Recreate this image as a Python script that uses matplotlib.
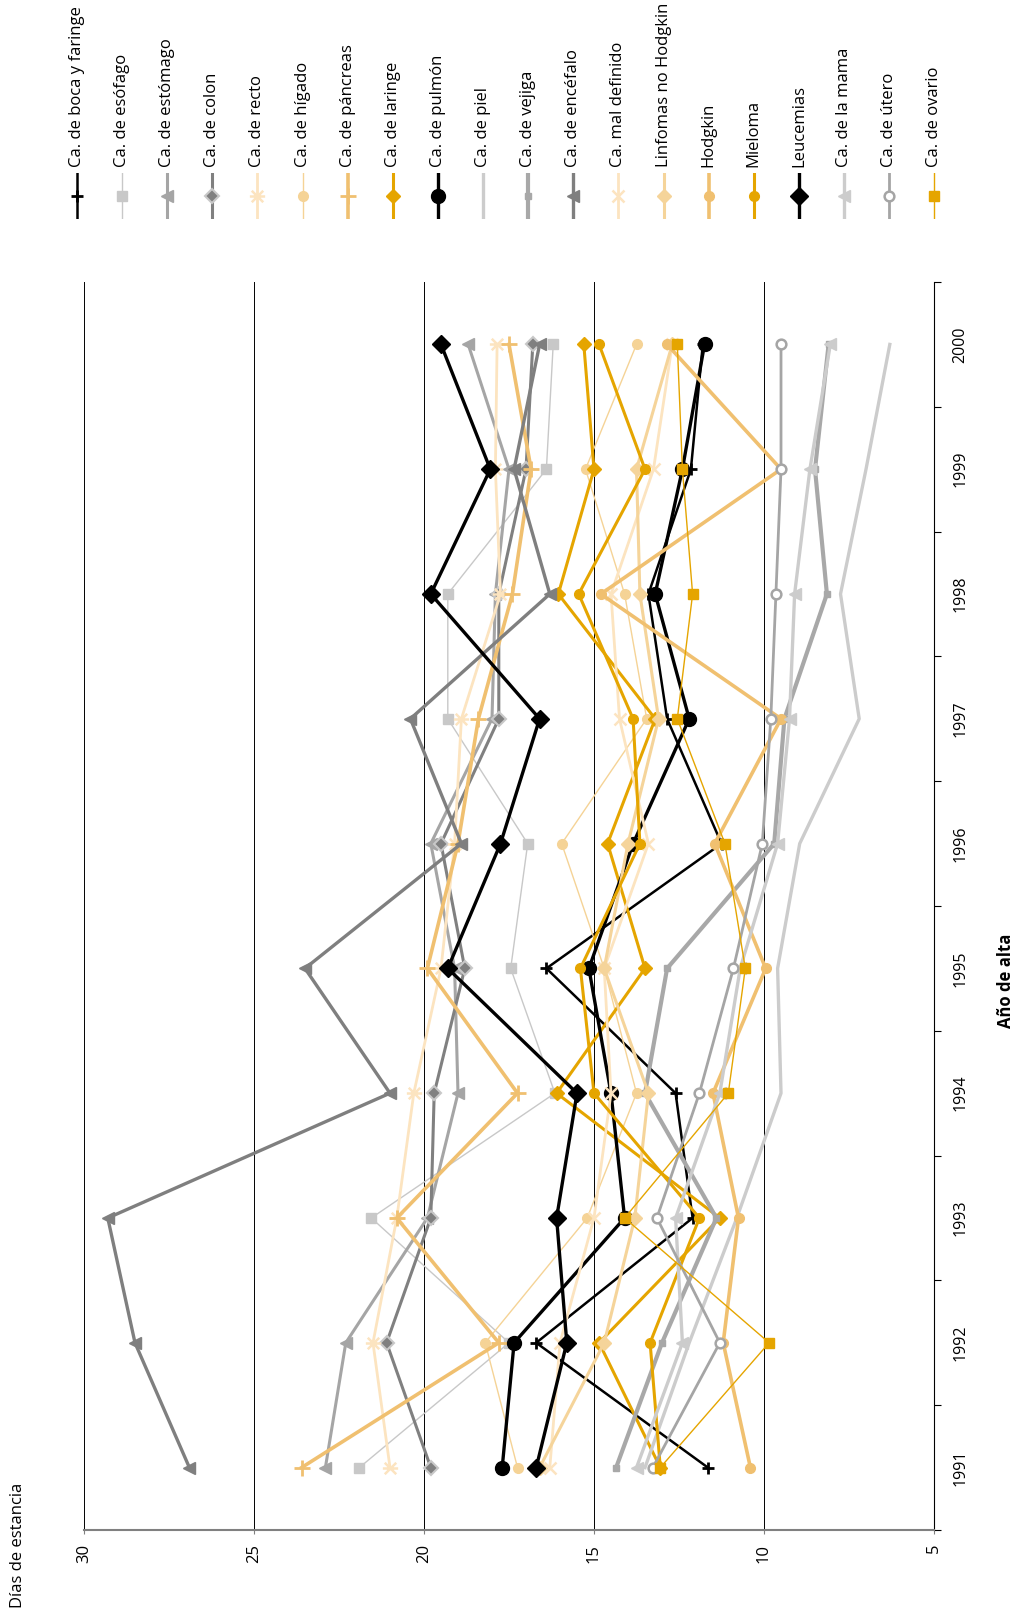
import matplotlib
matplotlib.use('Agg')
import matplotlib.pyplot as plt
from matplotlib.path import Path

plt.rcParams['font.family'] = ['Open Sans', 'DejaVu Sans']

# Días de estancia por año de alta
years = [1991, 1992, 1993, 1994, 1995, 1996, 1997, 1998, 1999, 2000]

boca = [11.65, 16.7, 12.1, 12.6, 16.4, 11.25, 12.85, 13.4, 12.15, 11.8]
esofago = [21.9, 17.5, 21.55, 16.15, 17.45, 16.95, 19.3, 19.3, 16.4, 16.2]
estomago = [22.9, 22.3, 19.9, 19.0, 19.1, 19.8, 18.0, 17.9, 17.5, 18.7]
colon = [19.8, 21.1, 19.8, 19.7, 18.8, 19.5, 17.8, 17.8, 17.0, 16.8]
recto = [21.0, 21.5, 20.8, 20.3, 19.5, 19.1, 18.9, 17.75, 17.9, 17.85]
higado = [17.25, 18.2, 15.2, 13.75, 14.7, 15.95, 13.45, 14.1, 15.25, 13.75]
pancreas = [23.6, 17.8, 20.8, 17.25, 19.9, 19.0, 18.4, 17.4, 16.85, 17.5]
laringe = [13.05, 14.85, 11.3, 16.1, 13.5, 14.6, 13.2, 16.05, 15.0, 15.3]
pulmon = [17.7, 17.35, 14.1, 14.5, 15.15, 13.85, 12.2, 13.2, 12.4, 11.75]
piel = [13.5, 12.2, 10.8, 9.5, 9.6, 8.95, 7.2, 7.75, 7.0, 6.3]
vejiga = [14.35, 13.0, 11.4, 13.5, 12.85, 9.7, 9.4, 8.15, 8.5, 8.1]
encefalo = [26.9, 28.5, 29.3, 21.0, 23.5, 18.9, 20.4, 16.3, 17.35, 16.6]
mal_definido = [16.3, 16.0, 15.0, 14.5, 14.7, 13.4, 14.25, 14.5, 13.25, 12.7]
linfomas = [16.6, 14.7, 13.8, 13.4, 14.7, 14.0, 13.1, 13.65, 13.75, 12.7]
hodgkin = [10.4, 11.2, 10.75, 11.5, 9.95, 11.45, 9.5, 14.8, 9.5, 12.85]
mieloma = [13.05, 13.35, 11.9, 15.0, 15.4, 13.65, 13.85, 15.45, 13.5, 14.85]
leucemias = [16.7, 15.8, 16.1, 15.5, 19.3, 17.75, 16.6, 19.8, 18.05, 19.5]
mama = [13.75, 12.4, 12.6, 11.3, 10.7, 9.6, 9.25, 9.1, 8.65, 8.05]
utero = [13.27, 11.3, 13.15, 11.9, 10.9, 10.05, 9.8, 9.65, 9.5, 9.5]
ovario = [13.05, 9.85, 14.1, 11.05, 10.55, 11.15, 12.55, 12.1, 12.4, 12.55]

value_ticks = [5, 10, 15, 20, 25, 30]

# asterisco girado (barra horizontal + aspa)
asterisk = Path([(-1, 0), (1, 0), (-0.75, -0.75), (0.75, 0.75), (-0.75, 0.75), (0.75, -0.75)],
                [Path.MOVETO, Path.LINETO, Path.MOVETO, Path.LINETO, Path.MOVETO, Path.LINETO])

# label, data, color, linewidth, marker kwargs
series = [
    ('Ca. de boca y faringe', boca, 'black', 1.8, dict(marker='+', ms=9, mew=2)),
    ('Ca. de esófago', esofago, '#C8C8C8', 1.0, dict(marker='s', ms=7)),
    ('Ca. de estómago', estomago, '#A5A5A5', 2.2, dict(marker='<', ms=9)),
    ('Ca. de colon', colon, '#808080', 2.2, dict(marker='D', ms=7, mfc='#808080', mec='#C8C8C8', mew=1.5)),
    ('Ca. de recto', recto, '#FCE4C0', 2.0, dict(marker=asterisk, ms=11, mew=1.8)),
    ('Ca. de hígado', higado, '#F5D396', 1.0, dict(marker='o', ms=7)),
    ('Ca. de páncreas', pancreas, '#F0C070', 2.6, dict(marker='+', ms=11, mew=2)),
    ('Ca. de laringe', laringe, '#E5A500', 2.2, dict(marker='D', ms=7)),
    ('Ca. de pulmón', pulmon, 'black', 2.4, dict(marker='o', ms=10)),
    ('Ca. de piel', piel, '#CCCCCC', 2.4, dict(marker=None)),
    ('Ca. de vejiga', vejiga, '#A8A8A8', 3.0, dict(marker='s', ms=5)),
    ('Ca. de encéfalo', encefalo, '#7F7F7F', 2.4, dict(marker='<', ms=9)),
    ('Ca. mal definido', mal_definido, '#FCE4C0', 2.0, dict(marker='x', ms=9, mew=1.8)),
    ('Linfomas no Hodgkin', linfomas, '#F5D49A', 2.2, dict(marker='D', ms=7)),
    ('Hodgkin', hodgkin, '#F0C070', 2.6, dict(marker='o', ms=7)),
    ('Mieloma', mieloma, '#E5A500', 2.2, dict(marker='o', ms=7)),
    ('Leucemias', leucemias, 'black', 2.4, dict(marker='D', ms=9)),
    ('Ca. de la mama', mama, '#CCCCCC', 2.4, dict(marker='<', ms=9)),
    ('Ca. de útero', utero, '#A5A5A5', 2.0, dict(marker='o', ms=7, mfc='white', mew=1.8)),
    ('Ca. de ovario', ovario, '#E5A500', 1.0, dict(marker='s', ms=7)),
]


def draw_chart(ax):
    pos = list(range(len(years)))
    for label, values, color, lw, mk in series:
        ax.plot(values, pos, color=color, lw=lw, **mk)

    ax.set_xlim(30, 5)
    ax.set_ylim(-0.5, len(years) - 0.5)

    ax.set_xticks(value_ticks)
    ax.set_xticklabels([str(v) for v in value_ticks], rotation=90, fontsize=12)
    ax.tick_params(axis='x', length=3, color='#808080', pad=7)
    ax.grid(axis='x', color='black', lw=0.7)

    ax.yaxis.tick_right()
    ax.set_yticks(pos)
    ax.set_yticklabels([str(y) for y in years], rotation=90, va='center', fontsize=11.5)
    ax.set_yticks([p - 0.5 for p in pos] + [pos[-1] + 0.5], minor=True)
    ax.tick_params(axis='y', which='major', length=0, pad=13)
    ax.tick_params(axis='y', which='minor', length=5, width=0.8, direction='out')

    ax.spines['top'].set_visible(False)
    ax.spines['left'].set_visible(False)
    ax.spines['right'].set_color('black')
    ax.spines['right'].set_linewidth(0.8)
    ax.spines['bottom'].set_color('#808080')
    ax.spines['bottom'].set_linewidth(1.5)


def draw_legend(lax):
    for i, (label, values, color, lw, mk) in enumerate(series):
        lax.plot([i, i, i], [0, 0.5, 1], color=color, lw=lw, markevery=[1], **mk)
        lax.text(i, 1.12, label, rotation=90, ha='center', va='bottom', fontsize=12)
    lax.set_xlim(-0.5, len(series) - 0.5)
    lax.set_ylim(0, 1)
    lax.axis('off')


def main():
    fig = plt.figure(figsize=(10.18, 16.18), dpi=100)

    ax = fig.add_axes([0.0825, 0.0544, 0.835, 0.7713])
    draw_chart(ax)

    lax = fig.add_axes([0.0534, 0.8647, 0.8866, 0.0284])
    draw_legend(lax)

    fig.text(0.0177, 0.045, 'Días de estancia', rotation=90, ha='center', va='center', fontsize=12)
    fig.text(0.988, 0.3937, 'Año de alta', rotation=90, ha='center', va='center',
             fontsize=12, fontweight='bold')

    fig.savefig('out.png', dpi=100)
    plt.close(fig)


if __name__ == "__main__":
    main()
